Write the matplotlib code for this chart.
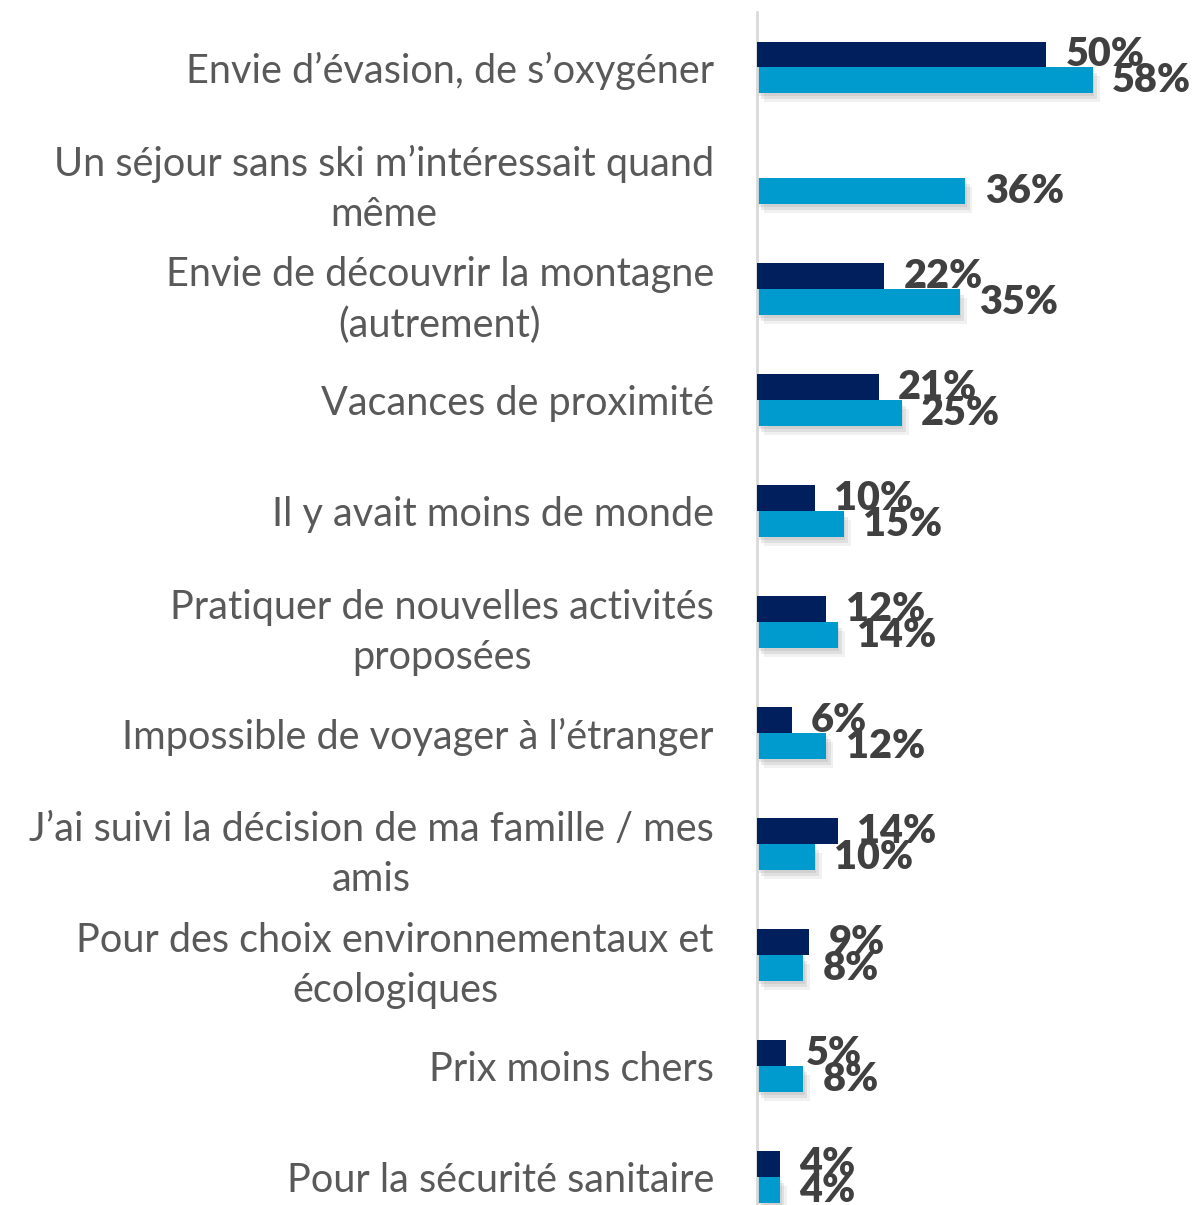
import matplotlib
matplotlib.use("Agg")
import matplotlib.pyplot as plt
import matplotlib.patheffects as pe
import numpy as np

categories = [
    "Envie d’évasion, de s’oxygéner",
    "Un séjour sans ski m’intéressait quand\nmême",
    "Envie de découvrir la montagne\n(autrement)",
    "Vacances de proximité",
    "Il y avait moins de monde",
    "Pratiquer de nouvelles activités\nproposées",
    "Impossible de voyager à l’étranger",
    "J’ai suivi la décision de ma famille / mes\namis",
    "Pour des choix environnementaux et\nécologiques",
    "Prix moins chers",
    "Pour la sécurité sanitaire",
]
series_dark = [50, None, 22, 21, 10, 12, 6, 14, 9, 5, 4]
series_light = [58, 36, 35, 25, 15, 14, 12, 10, 8, 8, 4]

DARK = "#001F5C"
LIGHT = "#009BCE"
TXT = "#404040"
CAT = "#595959"

plt.rcParams["font.family"] = ["Lato", "DejaVu Sans"]

fig = plt.figure(figsize=(11.94, 12.05), dpi=100)
ax = fig.add_axes([757 / 1194, 0.0, 1 - 757 / 1194, 1 - 12 / 1205])

y = np.arange(len(categories))
h = 0.234
shadow = [
    pe.SimplePatchShadow(offset=(1, -2), shadow_rgbFace="#7f7f7f", alpha=0.15),
    pe.SimplePatchShadow(offset=(3, -4), shadow_rgbFace="#7f7f7f", alpha=0.15),
    pe.SimplePatchShadow(offset=(5, -6), shadow_rgbFace="#7f7f7f", alpha=0.1),
    pe.Normal(),
]

for i, (d, l) in enumerate(zip(series_dark, series_light)):
    if d is not None:
        ax.barh(y[i] - h / 2, d, height=h, color=DARK, zorder=3)
        ax.annotate(f"{d}%", (d, y[i] - h / 2), xytext=(14, 0), textcoords="offset points",
                    ha="left", va="center", fontsize=28.5, fontweight="heavy", color=TXT, zorder=5)
    b = ax.barh(y[i] + h / 2, l, height=h, color=LIGHT, zorder=2)
    for p in b.patches:
        p.set_path_effects(shadow)
    ax.annotate(f"{l}%", (l, y[i] + h / 2), xytext=(14, 0), textcoords="offset points",
                ha="left", va="center", fontsize=28.5, fontweight="heavy", color=TXT, zorder=5)

ax.set_xlim(0, 75.5)
ax.set_ylim(10.25, -0.5)
ax.set_yticks(y)
ax.set_yticklabels(categories, fontsize=28.5, color=CAT)
for t in ax.get_yticklabels():
    t.set_multialignment("center")
    t.set_linespacing(1.45)
ax.tick_params(axis="y", length=0, pad=31)
ax.set_xticks([])
for s in ["top", "right", "bottom"]:
    ax.spines[s].set_visible(False)
ax.spines["left"].set_color("#D9D9D9")
ax.spines["left"].set_linewidth(2)

fig.savefig("out.png", dpi=100)
